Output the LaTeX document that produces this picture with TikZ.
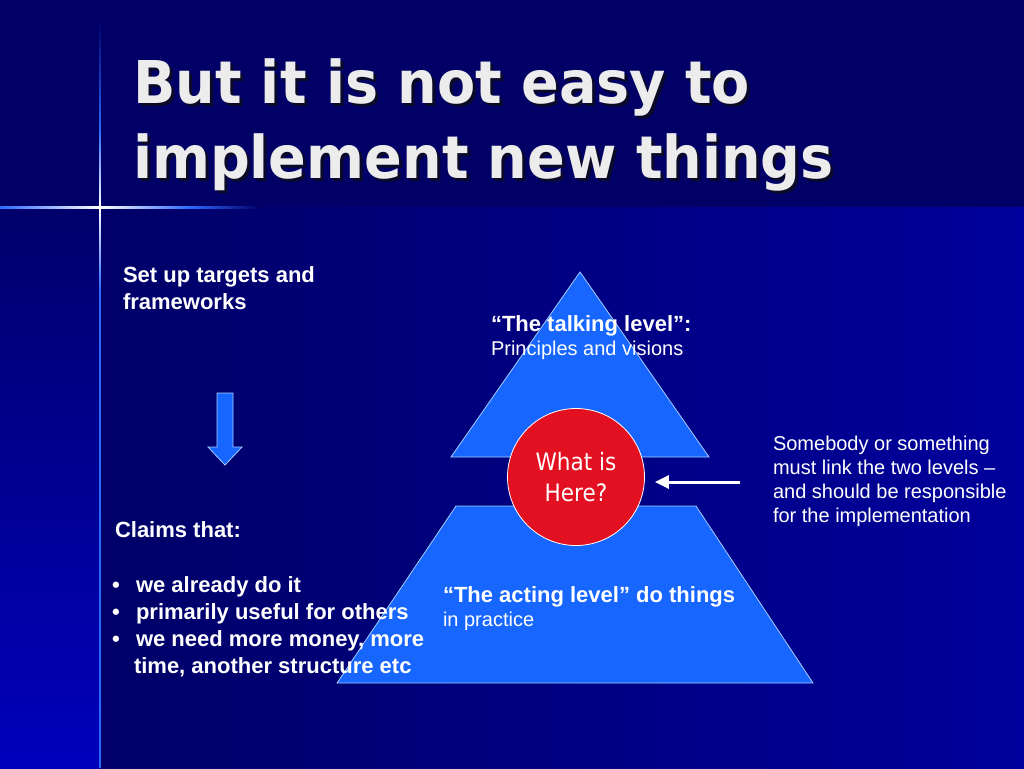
\documentclass[tikz,border=0pt]{standalone}
\usepackage{fontspec}
\setmainfont{Liberation Sans}
\newfontfamily\titlefont[FakeStretch=0.943]{DejaVu Sans}
\newfontfamily\herefont[FakeStretch=0.9]{DejaVu Sans}
\usetikzlibrary{arrows.meta,calc}
\definecolor{topbg}{RGB}{0,0,102}
\definecolor{lowbgL}{RGB}{0,0,104}
\definecolor{lowbgR}{RGB}{0,0,156}
\definecolor{stripT}{RGB}{0,0,108}
\definecolor{stripB}{RGB}{0,0,188}
\definecolor{pyr}{RGB}{22,102,255}
\definecolor{pyredge}{RGB}{165,205,255}
\definecolor{redc}{RGB}{226,16,32}
\definecolor{titlegrey}{RGB}{236,236,236}
\definecolor{titleshade}{RGB}{10,10,40}
\definecolor{lineblue}{RGB}{45,105,255}
\tikzset{
  txt/.style={inner sep=0pt, outer sep=0pt, anchor=base west, align=left, text=white},
  boldtxt/.style={txt, font=\fontsize{22}{27}\selectfont\bfseries},
  regtxt/.style={txt, font=\fontsize{20}{24}\selectfont},
  pyramid/.style={fill=pyr, draw=pyredge, line width=0.8pt, line join=miter},
  herecircle/.style={circle, fill=redc, draw=white, line width=0.8pt, minimum size=137pt, inner sep=0pt, align=center, text=white, font=\herefont\fontsize{24}{31}\selectfont},
  linkarrow/.style={draw=white, line width=3pt, -{Triangle[length=14pt,width=13pt]}},
  blockarrow/.style={fill=pyr, draw=pyredge, line width=0.8pt},
  titletxt/.style={inner sep=0pt, outer sep=0pt, anchor=base west, align=left, font=\titlefont\bfseries\fontsize{59}{75}\selectfont}
}
\begin{document}
\begin{tikzpicture}[x=1pt,y=-1pt]
\useasboundingbox (0,0) rectangle (1024,768);
% background
\fill[topbg] (0,0) rectangle (1024,207);
\shade[left color=lowbgL, right color=lowbgR] (100,207) rectangle (1024,768);
\shade[top color=stripT, bottom color=stripB] (0,207) rectangle (100,768);
% decorative lines
\shade[top color=topbg, bottom color=lineblue] (99.2,20) rectangle (100.8,130);
\shade[top color=lineblue, bottom color=white] (99.2,130) rectangle (100.8,206);
\shade[top color=white, bottom color=lineblue] (99.2,208) rectangle (100.8,290);
\fill[lineblue] (99.2,290) rectangle (100.8,768);
\shade[left color=lineblue, right color=white] (0,206) rectangle (99,208);
\shade[left color=white, right color=lineblue] (101,206) rectangle (190,208);
\shade[left color=lineblue, right color=lowbgL] (190,206) rectangle (260,208);
\fill[white] (97,206.3) rectangle (103,207.7);
\fill[white] (99.3,203) rectangle (100.7,211);
% title (node base = last line's baseline)
\node[titletxt, text=titleshade] (titleshadow) at (136,181) {But it is not easy to\\implement new things};
\node[titletxt, text=titlegrey] (title) at (133,178) {But it is not easy to\\implement new things};
% pyramid
\path[pyramid] (580,272) -- (709,457) -- (451,457) -- cycle;
\path[pyramid] (456,506) -- (696,506) -- (813,683) -- (337,683) -- cycle;
% circle
\node[herecircle] (here) at (576,477) {What is\\Here?};
% link arrow
\coordinate (arrtail) at (740,482);
\draw[linkarrow, shorten >=10pt] (arrtail) -- (arrtail -| here.east);
% down block arrow
\path[blockarrow] (217,393) -- (233,393) -- (233,447) -- (242,447) -- (225,465) -- (208,447) -- (217,447) -- cycle;
% texts
\node[boldtxt] (targets) at (123,309) {Set up targets and\\frameworks};
\node[boldtxt] (claims) at (115,537) {Claims that:};
\node[boldtxt] (b1) at (112,592) {•};
\node[boldtxt] (c1) at (136,592) {we already do it};
\node[boldtxt] (b2) at (112,619) {•};
\node[boldtxt] (c2) at (136,619) {primarily useful for others};
\node[boldtxt] (b3) at (112,646) {•};
\node[boldtxt] (c3) at (136,646) {we need more money, more};
\node[boldtxt] (c4) at (134,673) {time, another structure etc};
\node[boldtxt] (talk) at (491,331) {“The talking level”:};
\node[regtxt] (princ) at (491,355) {Principles and visions};
\node[boldtxt] (act) at (443,602) {“The acting level” do things};
\node[regtxt] (prac) at (443,626) {in practice};
\node[regtxt] (link) at (773,522) {Somebody or something\\must link the two levels –\\and should be responsible\\for the implementation};
\end{tikzpicture}
\end{document}
